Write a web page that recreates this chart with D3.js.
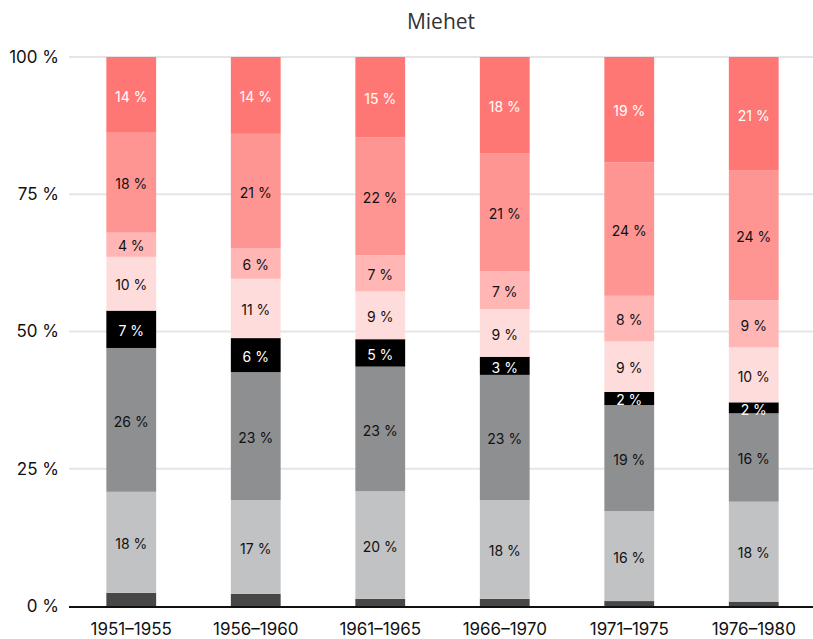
<!DOCTYPE html>
<html>
<head>
<meta charset="utf-8">
<script src="https://cdn.jsdelivr.net/npm/d3@7"></script>
<style>
  html, body { margin: 0; padding: 0; background: #fff; }
  svg { display: block; }
</style>
</head>
<body>
<svg id="chart" width="813" height="639"></svg>
<script>
const title = "Miehet";
const categories = ["1951–1955", "1956–1960", "1961–1965", "1966–1970", "1971–1975", "1976–1980"];
const seriesNames = ["s1", "s2", "s3", "s4", "s5", "s6", "s7", "s8"];
const s1 = [2.4, 2.2, 1.3, 1.3, 0.9, 0.8];
const s2 = [18.4, 17.1, 19.6, 18.0, 16.4, 18.2];
const s3 = [26.2, 23.3, 22.7, 22.8, 19.3, 16.1];
const s4 = [6.8, 6.2, 5.0, 3.3, 2.4, 2.0];
const s5 = [9.8, 10.8, 8.7, 8.7, 9.2, 10.0];
const s6 = [4.4, 5.6, 6.6, 6.9, 8.3, 8.6];
const s7 = [18.2, 20.8, 21.5, 21.4, 24.3, 23.6];
const s8 = [13.8, 14.0, 14.6, 17.6, 19.2, 20.7];
const yTicks = [0, 25, 50, 75, 100];

const seriesValues = [s1, s2, s3, s4, s5, s6, s7, s8];
const colors = ["#474747", "#c1c2c4", "#8e8f91", "#000000", "#ffdcdc", "#ffb6b5", "#ff9593", "#ff7775"];
const textColors = [null, "#111", "#111", "#fff", "#111", "#111", "#111", "#fff"];

const rows = categories.map((c, i) => {
  const r = { cat: c };
  seriesNames.forEach((s, j) => r[s] = seriesValues[j][i]);
  return r;
});

const svg = d3.select("#chart");
const margin = { left: 69, right: 0, top: 57, bottom: 33 };
const W = 813, H = 639;

const x = d3.scaleBand().domain(categories).range([margin.left, 816]).paddingInner(0.6).paddingOuter(0.3);
const y = d3.scaleLinear().domain([0, 100]).range([606, 57]);

const stack = d3.stack().keys(seriesNames)(rows);

// grid
svg.append("g").selectAll("line").data(yTicks.filter(t => t > 0)).join("line")
  .attr("x1", margin.left).attr("x2", W)
  .attr("y1", d => y(d)).attr("y2", d => y(d))
  .attr("stroke", "#e5e5e7").attr("stroke-width", 2);

// title
svg.append("text").attr("x", 441).attr("y", 29).attr("text-anchor", "middle")
  .attr("font-family", "'Open Sans', sans-serif").attr("font-size", 21).attr("fill", "#333")
  .text(title);

// bars
const g = svg.append("g");
stack.forEach((layer, j) => {
  g.append("g").selectAll("rect").data(layer).join("rect")
    .attr("x", d => x(d.data.cat))
    .attr("width", x.bandwidth())
    .attr("y", d => y(d[1]))
    .attr("height", d => y(d[0]) - y(d[1]))
    .attr("fill", colors[j]);
});

// labels
stack.forEach((layer, j) => {
  if (!textColors[j]) return;
  g.append("g").selectAll("text").data(layer).join("text")
    .attr("x", d => x(d.data.cat) + x.bandwidth() / 2)
    .attr("y", d => (y(d[0]) + y(d[1])) / 2)
    .attr("dy", "0.48em")
    .attr("text-anchor", "middle")
    .attr("font-family", "Inter, sans-serif").attr("font-size", 14)
    .attr("fill", textColors[j])
    .text(d => Math.round(d[1] - d[0]) + " %");
});

// y axis
const yAxis = d3.axisLeft(y).tickValues(yTicks).tickSize(0).tickPadding(10).tickFormat(d => d + " %");
const ya = svg.append("g").attr("transform", `translate(${margin.left},0)`).call(yAxis);
ya.select(".domain").remove();
ya.selectAll("text").attr("font-family", "Inter, sans-serif").attr("font-size", 17).attr("fill", "#111");

// x axis
const xAxis = d3.axisBottom(x).tickSize(0).tickPadding(17);
const xa = svg.append("g").attr("transform", `translate(0,606)`).call(xAxis);
xa.select(".domain").remove();
xa.selectAll("text").attr("font-family", "Inter, sans-serif").attr("font-size", 17).attr("fill", "#111");
svg.append("line").attr("x1", margin.left).attr("x2", W).attr("y1", 607).attr("y2", 607)
  .attr("stroke", "#111").attr("stroke-width", 2);
</script>
</body>
</html>
